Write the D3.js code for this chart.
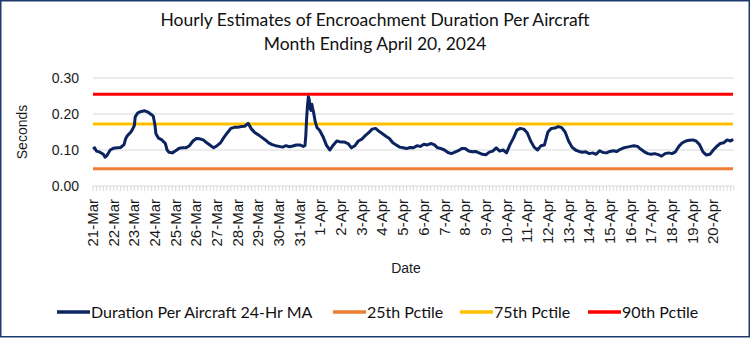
<!DOCTYPE html>
<html>
<head>
<meta charset="utf-8">
<script src="https://cdn.jsdelivr.net/npm/d3@7"></script>
<style>
  html, body { margin: 0; padding: 0; background: #fff; }
  svg { display: block; }
</style>
</head>
<body>
<svg id="chart" width="750" height="339"></svg>
<script>
// Date labels, one per day (hour 0 of each day)
const dayLabels = ["21-Mar","22-Mar","23-Mar","24-Mar","25-Mar","26-Mar","27-Mar","28-Mar","29-Mar","30-Mar","31-Mar",
  "1-Apr","2-Apr","3-Apr","4-Apr","5-Apr","6-Apr","7-Apr","8-Apr","9-Apr","10-Apr","11-Apr","12-Apr","13-Apr","14-Apr",
  "15-Apr","16-Apr","17-Apr","18-Apr","19-Apr","20-Apr"];

// 24-hour moving average: hours since 21-Mar 00:00 and duration (seconds)
const maHours = [0,2,4,8,12,14,16,20, 24,28,32,36,38,40,44, 46,48,49,52,56,60,64,68,70,
  72,73,76,80,84,86,88,92, 96,100,104,108,112,116, 120,124,128,132,136,140,
  144,148,152,156,160,164, 168,172,176,180,184,188, 192,196,200,204,208,212,
  216,220,224,228,232,236, 240,244,246,247,248,249,250,251,252,253,254,255,256,258,260,263,267,271,275,279,283,
  288,292,296,300,304,308, 312,316,320,324,328,332, 336,340,344,348,352,356,
  360,364,368,372,376,380, 384,388,392,396,400,404, 408,412,416,420,424,428,
  432,436,440,444,448,452, 456,460,464,468,472,476, 480,484,488,492,496,500,
  504,508,512,516,520,524, 528,532,536,540,544,548, 552,556,560,564,568,572,
  576,580,584,588,592,596, 600,604,608,612,616,620, 624,628,632,636,640,644,
  648,652,656,660,664,668, 672,676,680,684,688,692, 696,700,704,708,712,716,
  720,724,728,732,736,740,743];
const maValues = [0.103,0.106,0.097,0.094,0.088,0.080,0.084,0.100, 0.105,0.106,0.107,0.115,0.132,0.140,0.150, 0.158,0.168,0.192,0.203,0.207,0.209,0.205,0.198,0.194,
  0.168,0.145,0.133,0.128,0.118,0.100,0.094,0.092, 0.098,0.105,0.106,0.106,0.112,0.125, 0.132,0.131,0.128,0.120,0.113,0.106,
  0.112,0.120,0.135,0.148,0.160,0.163, 0.163,0.165,0.166,0.174,0.158,0.148, 0.142,0.135,0.128,0.120,0.115,0.112,
  0.110,0.108,0.112,0.109,0.111,0.114, 0.114,0.110,0.112,0.140,0.190,0.225,0.248,0.240,0.215,0.210,0.227,0.215,0.205,0.178,0.162,0.155,0.137,0.113,0.100,0.114,0.125,
  0.122,0.122,0.118,0.106,0.112,0.125, 0.130,0.140,0.148,0.158,0.160,0.152, 0.145,0.138,0.132,0.120,0.114,0.108,
  0.106,0.104,0.107,0.106,0.112,0.110, 0.116,0.114,0.118,0.115,0.106,0.104, 0.100,0.093,0.090,0.094,0.098,0.104,
  0.104,0.097,0.095,0.096,0.092,0.088, 0.087,0.094,0.097,0.106,0.097,0.100, 0.092,0.115,0.133,0.155,0.160,0.158,
  0.148,0.125,0.108,0.100,0.112,0.114, 0.150,0.160,0.161,0.165,0.162,0.150, 0.125,0.108,0.100,0.096,0.094,0.095,
  0.090,0.092,0.088,0.098,0.093,0.092, 0.096,0.098,0.096,0.102,0.106,0.108, 0.110,0.112,0.110,0.102,0.095,0.090,
  0.088,0.090,0.087,0.083,0.090,0.092, 0.090,0.095,0.110,0.120,0.125,0.127, 0.128,0.125,0.115,0.095,0.086,0.088,
  0.100,0.110,0.118,0.120,0.128,0.125,0.130];

// Percentile reference levels
const pctileNames = ["25th Pctile", "75th Pctile", "90th Pctile"];
const pctileValues = [0.048, 0.172, 0.255];
const pctileColors = ["#ed7d31", "#ffc000", "#ff0000"];

const yTicks = [0, 0.1, 0.2, 0.3];
const seriesName = "Duration Per Aircraft 24-Hr MA";
const lineColor = "#0b2460";

const svg = d3.select("#chart");
const W = 750, H = 339;
const margin = { left: 93, right: 16, top: 78, bottom: 153 };
const totalHours = dayLabels.length * 24;

const x = d3.scaleLinear().domain([0, totalHours]).range([margin.left, W - margin.right]);
const y = d3.scaleLinear().domain([0, 0.3]).range([H - margin.bottom, margin.top]);

// Outer frame
svg.append("rect").attr("x", 0.75).attr("y", 0.75).attr("width", W - 1.5).attr("height", 336)
  .attr("fill", "#fff").attr("stroke", "#1f3a6e").attr("stroke-width", 1.5);

// Title
const titleFont = "Lato, 'Open Sans', sans-serif";
svg.append("text").attr("x", 375).attr("y", 26).attr("text-anchor", "middle")
  .attr("font-family", titleFont).attr("font-size", 17.5).attr("fill", "#111")
  .text("Hourly Estimates of Encroachment Duration Per Aircraft");
svg.append("text").attr("x", 375).attr("y", 50).attr("text-anchor", "middle")
  .attr("font-family", titleFont).attr("font-size", 17.5).attr("fill", "#111")
  .text("Month Ending April 20, 2024");

// Gridlines
svg.append("g").selectAll("line").data(yTicks.filter(d => d > 0)).join("line")
  .attr("x1", x(0)).attr("x2", x(totalHours)).attr("y1", d => y(d)).attr("y2", d => y(d))
  .attr("stroke", "#d9d9d9").attr("stroke-width", 1);

// Y axis labels
const yAxis = d3.axisLeft(y).tickValues(yTicks).tickFormat(d3.format(".2f")).tickSize(0).tickPadding(14);
const gy = svg.append("g").attr("transform", `translate(${margin.left},0)`).call(yAxis);
gy.select(".domain").remove();
gy.selectAll("text").attr("font-family", "Liberation Sans, Arial, sans-serif").attr("font-size", 14).attr("fill", "#1a1a1a");

// X axis: minor ticks every 4 hours, labels at day starts
const minorTicks = d3.range(0, totalHours + 1, 4);
const gx = svg.append("g").attr("transform", `translate(0,${y(0)})`);
gx.append("line").attr("x1", x(0)).attr("x2", x(totalHours)).attr("stroke", "#d9d9d9").attr("stroke-width", 1);
gx.selectAll("line.tick").data(minorTicks).join("line").attr("class", "tick")
  .attr("x1", d => x(d)).attr("x2", d => x(d)).attr("y1", 0).attr("y2", 5)
  .attr("stroke", "#d9d9d9").attr("stroke-width", 1);
gx.selectAll("text").data(dayLabels).join("text")
  .attr("transform", (d, i) => `translate(${x(i * 24) + 5},${13}) rotate(-90)`)
  .attr("text-anchor", "end")
  .attr("font-family", "Liberation Sans, Arial, sans-serif").attr("font-size", 15).attr("fill", "#1a1a1a")
  .text(d => d);

// Axis titles
svg.append("text").attr("transform", `translate(27,${(y(0) + y(0.3)) / 2}) rotate(-90)`)
  .attr("text-anchor", "middle").attr("font-family", "Liberation Sans, Arial, sans-serif")
  .attr("font-size", 14).attr("fill", "#1a1a1a").text("Seconds");
svg.append("text").attr("x", 406).attr("y", 273).attr("text-anchor", "middle")
  .attr("font-family", "Liberation Sans, Arial, sans-serif").attr("font-size", 14).attr("fill", "#1a1a1a").text("Date");

// Percentile reference lines
svg.append("g").selectAll("line").data(pctileValues).join("line")
  .attr("x1", x(0)).attr("x2", x(totalHours) - 1).attr("y1", d => y(d)).attr("y2", d => y(d))
  .attr("stroke", (d, i) => pctileColors[i]).attr("stroke-width", 3);

// Moving-average line
const pts = maHours.map((h, i) => [h, maValues[i]]);
svg.append("path").datum(pts)
  .attr("d", d3.line().x(d => x(d[0])).y(d => y(d[1])))
  .attr("fill", "none").attr("stroke", lineColor).attr("stroke-width", 3).attr("stroke-linejoin", "round");

// Legend
const legendItems = [{ name: seriesName, color: lineColor }]
  .concat(pctileNames.map((n, i) => ({ name: n, color: pctileColors[i] })));
const legendX = [57, 333, 460, 588];
const lg = svg.append("g").selectAll("g").data(legendItems).join("g")
  .attr("transform", (d, i) => `translate(${legendX[i]},312)`);
lg.append("line").attr("x1", 0).attr("x2", 33).attr("stroke", d => d.color).attr("stroke-width", 3.5);
lg.append("text").attr("x", 34).attr("y", 5.5).attr("font-family", titleFont).attr("font-size", 16)
  .attr("fill", "#111").text(d => d.name);
</script>
</body>
</html>
